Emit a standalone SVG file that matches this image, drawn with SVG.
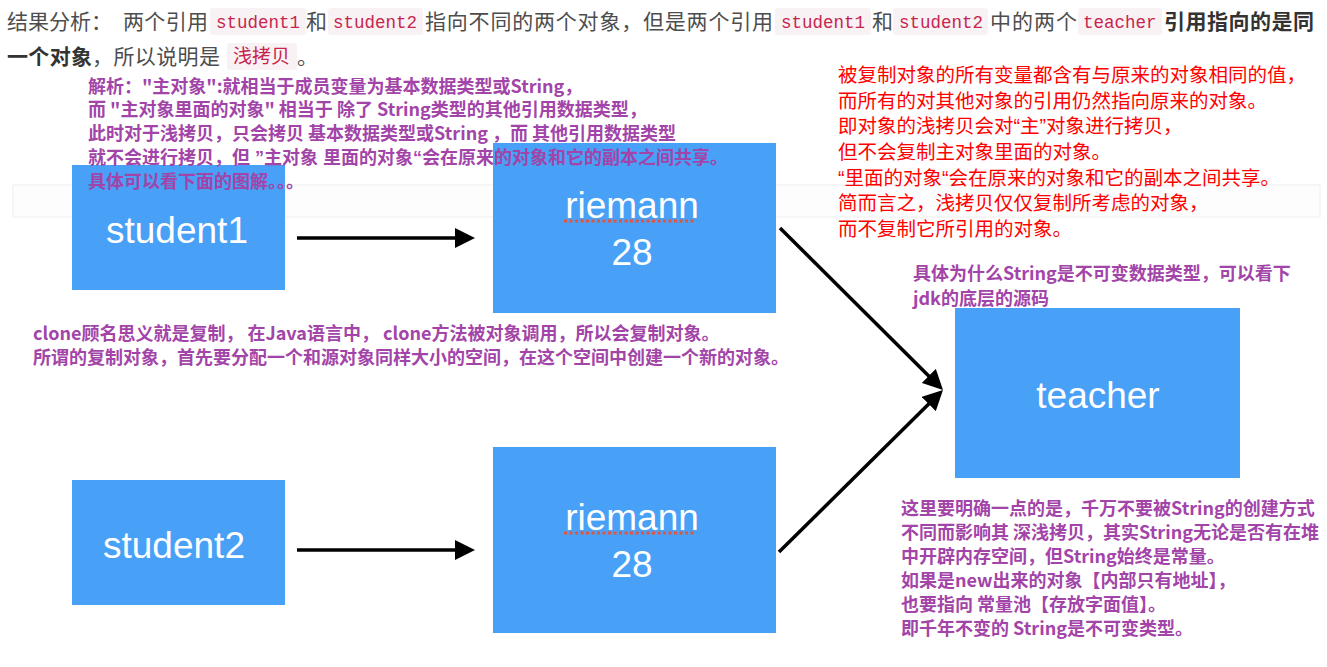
<svg xmlns="http://www.w3.org/2000/svg" width="1327" height="667" viewBox="0 0 1327 667">
<style>
.t{font-family:"Noto Sans CJK SC","Noto Sans",sans-serif;font-size:21px;fill:#4d4d4d}
.tb{font-weight:bold;fill:#333}
.chip{fill:#f9f2f4}
.code{font-family:"Liberation Mono","DejaVu Sans Mono","Noto Sans CJK SC",monospace;font-size:17.5px;fill:#c7254e}
.p{font-family:"Noto Sans CJK SC","Noto Sans",sans-serif;font-size:18px;font-weight:bold;fill:#a244a8}
.pq{font-family:"Liberation Sans","Noto Sans CJK SC",sans-serif}
.r{font-family:"Liberation Sans","Noto Sans CJK SC",sans-serif;font-size:19.5px;fill:#ff0000}
.box{fill:#48a1f7}
.bt{font-family:"Liberation Sans",Arial,sans-serif;font-size:37px;fill:#ffffff;text-anchor:middle}
.arr{stroke:#000;stroke-width:3.5;fill:none;marker-end:url(#ah)}
.sq{stroke:#e2543e;stroke-width:3;stroke-dasharray:3,2.5;fill:none}
</style>
<defs>
<marker id="ah" markerUnits="userSpaceOnUse" markerWidth="20" markerHeight="20" refX="12" refY="10" orient="auto">
<path d="M0,0 L20,10 L0,20 z" fill="#000"/>
</marker>
</defs>
<rect width="1327" height="667" fill="#ffffff"/>
<g id="background-band">
<rect x="13" y="185" width="1307" height="32" fill="#fdfdfd" stroke="#eeeeee" stroke-width="1"/>
<line x1="1030" y1="185" x2="1030" y2="217" stroke="#eeeeee" stroke-width="1"/>
</g>
<g id="header">
<text class="t" x="7" y="29">结果分析：</text>
<text class="t" x="123" y="29" textLength="85" lengthAdjust="spacing">两个引用</text>
<rect class="chip" x="210" y="8" width="96" height="27" rx="3"/>
<text class="code" x="216" y="28">student1</text>
<text class="t" x="306" y="29">和</text>
<rect class="chip" x="328" y="8" width="95" height="27" rx="3"/>
<text class="code" x="333" y="28">student2</text>
<text class="t" x="425" y="29" textLength="348" lengthAdjust="spacing">指向不同的两个对象，但是两个引用</text>
<rect class="chip" x="775" y="8" width="96" height="27" rx="3"/>
<text class="code" x="781" y="28">student1</text>
<text class="t" x="872" y="29">和</text>
<rect class="chip" x="893" y="8" width="95" height="27" rx="3"/>
<text class="code" x="899" y="28">student2</text>
<text class="t" x="990" y="29" textLength="87" lengthAdjust="spacing">中的两个</text>
<rect class="chip" x="1078" y="8" width="84" height="27" rx="3"/>
<text class="code" x="1083" y="28">teacher</text>
<text class="t tb" x="1164" y="29" textLength="150" lengthAdjust="spacing">引用指向的是同</text>
<text class="t tb" x="7" y="64" textLength="85" lengthAdjust="spacing">一个对象</text>
<text class="t" x="92" y="64" textLength="128" lengthAdjust="spacing">，所以说明是</text>
<rect class="chip" x="227" y="43" width="70" height="27" rx="3"/>
<text class="code" x="233" y="63" style="font-size:19px">浅拷贝</text>
<text class="t" x="297" y="64">。</text>
</g>
<g id="student1">
<rect class="box" x="72" y="165" width="213" height="125"/>
<text class="bt" x="177" y="243">student1</text>
</g>
<g id="student2">
<rect class="box" x="72" y="480" width="213" height="125"/>
<text class="bt" x="174" y="558">student2</text>
</g>
<g id="riemann1">
<rect class="box" x="493" y="143" width="283" height="170"/>
<text class="bt" x="632" y="218">riemann</text>
<line class="sq" x1="564" y1="221" x2="696" y2="221"/>
<text class="bt" x="632" y="265">28</text>
</g>
<g id="riemann2">
<rect class="box" x="493" y="447" width="283" height="186"/>
<text class="bt" x="632" y="530">riemann</text>
<line class="sq" x1="564" y1="533" x2="696" y2="533"/>
<text class="bt" x="632" y="577">28</text>
</g>
<g id="teacher">
<rect class="box" x="955" y="308" width="285" height="170"/>
<text class="bt" x="1098" y="408">teacher</text>
</g>
<g id="connectors">
<line class="arr" x1="297" y1="238" x2="467" y2="238"/>
<line class="arr" x1="297" y1="550" x2="467" y2="550"/>
<line class="arr" x1="780" y1="228" x2="937.3" y2="384.4"/>
<line class="arr" x1="779" y1="552" x2="937.3" y2="395.6"/>
</g>
<g id="note-top-left">
<text class="p" x="88" y="92.5">解析："主对象":就相当于成员变量为基本数据类型或String，</text>
<text class="p" x="88" y="116">而 "主对象里面的对象" 相当于 除了 String类型的其他引用数据类型，</text>
<text class="p" x="88" y="140">此时对于浅拷贝，只会拷贝 基本数据类型或String ，而 其他引用数据类型</text>
<text class="p pq" x="88" y="164">就不会进行拷贝，但 ”主对象 里面的对象“会在原来的对象和它的副本之间共享。</text>
<text class="p" x="88" y="188">具体可以看下面的图解。。。</text>
</g>
<g id="note-red">
<text class="r" x="838" y="82">被复制对象的所有变量都含有与原来的对象相同的值，</text>
<text class="r" x="838" y="108">而所有的对其他对象的引用仍然指向原来的对象。</text>
<text class="r" x="838" y="133">即对象的浅拷贝会对“主”对象进行拷贝，</text>
<text class="r" x="838" y="159">但不会复制主对象里面的对象。</text>
<text class="r" x="838" y="185">“里面的对象“会在原来的对象和它的副本之间共享。</text>
<text class="r" x="838" y="210">简而言之，浅拷贝仅仅复制所考虑的对象，</text>
<text class="r" x="838" y="236">而不复制它所引用的对象。</text>
</g>
<g id="note-jdk">
<text class="p" x="913" y="280">具体为什么String是不可变数据类型，可以看下</text>
<text class="p" x="913" y="305">jdk的底层的源码</text>
</g>
<g id="note-clone">
<text class="p" x="33" y="340">clone顾名思义就是复制， 在Java语言中， clone方法被对象调用，所以会复制对象。</text>
<text class="p" x="33" y="364">所谓的复制对象，首先要分配一个和源对象同样大小的空间，在这个空间中创建一个新的对象。</text>
</g>
<g id="note-string">
<text class="p" x="901" y="514.5">这里要明确一点的是，千万不要被String的创建方式</text>
<text class="p" x="901" y="539">不同而影响其 深浅拷贝，其实String无论是否有在堆</text>
<text class="p" x="901" y="562.5">中开辟内存空间，但String始终是常量。</text>
<text class="p" x="901" y="586.5">如果是new出来的对象【内部只有地址】，</text>
<text class="p" x="901" y="610.5">也要指向 常量池【存放字面值】。</text>
<text class="p" x="901" y="634.5">即千年不变的 String是不可变类型。</text>
</g>
</svg>
